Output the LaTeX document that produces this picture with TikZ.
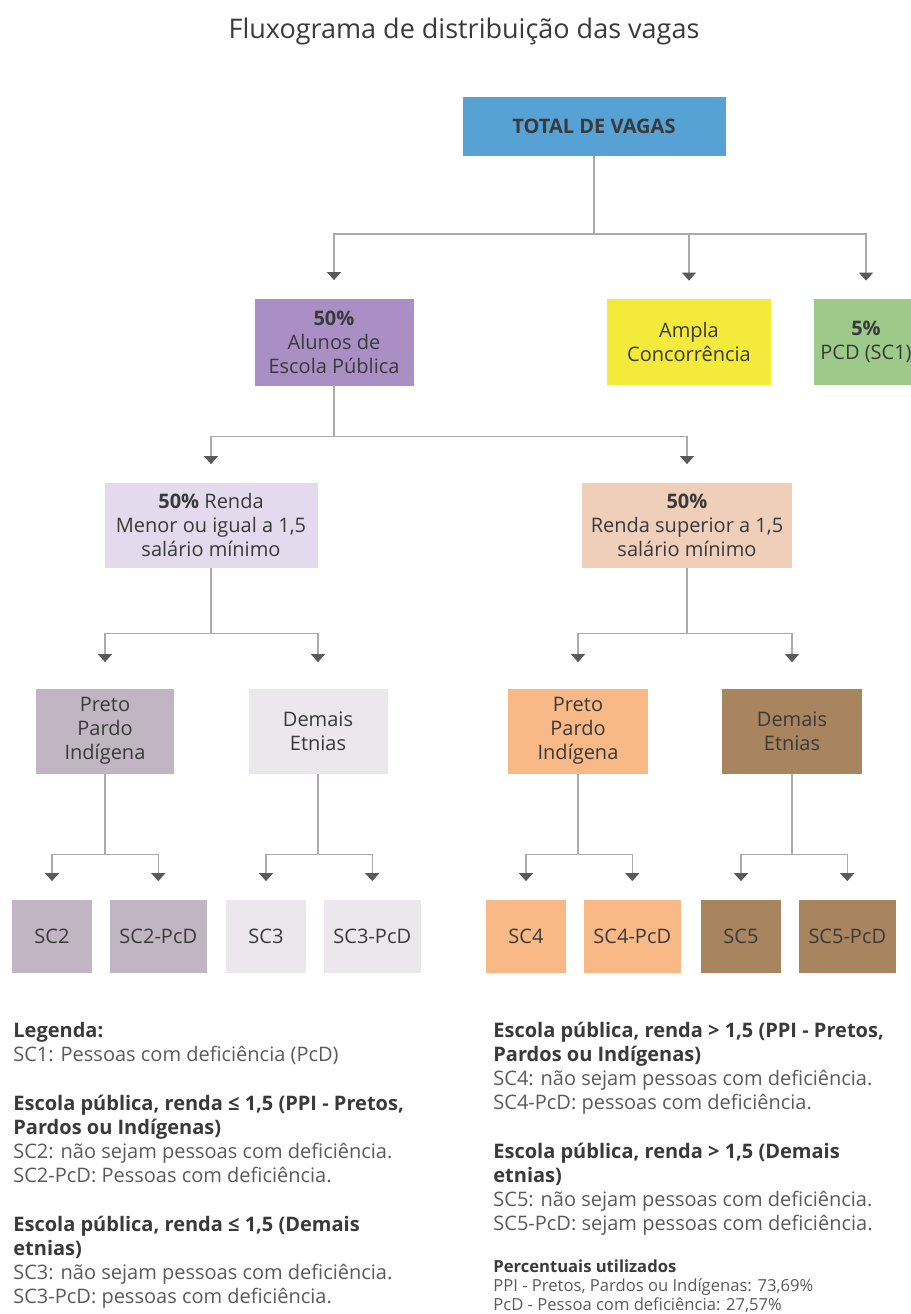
\documentclass[tikz,border=0pt]{standalone}
\usepackage{fontspec}
\setmainfont{Open Sans}
\usepackage{tikz}
\usetikzlibrary{arrows.meta,positioning}

\definecolor{titlec}{HTML}{3A3A3A}
\definecolor{boxtext}{HTML}{3A3A3A}
\definecolor{bodytext}{HTML}{5A5A5A}
\definecolor{linegray}{HTML}{ABABAB}
\definecolor{tipgray}{HTML}{5A5A5A}
\definecolor{vagasblue}{HTML}{57A2D4}
\definecolor{alunospurple}{HTML}{A98FC3}
\definecolor{amplayellow}{HTML}{F3EA3B}
\definecolor{pcdgreen}{HTML}{9DCA89}
\definecolor{rendalow}{HTML}{E3DBED}
\definecolor{rendahigh}{HTML}{EFCFBA}
\definecolor{ppilow}{HTML}{C1B4C3}
\definecolor{demlow}{HTML}{EBE7ED}
\definecolor{ppihigh}{HTML}{F8B986}
\definecolor{demhigh}{HTML}{A8845F}

\begin{document}
\begin{tikzpicture}[
  x=0.5pt, y=-0.5pt,
  node distance=8.5pt and 8.5pt,
  box/.style={rectangle, inner sep=0pt, align=center, text=boxtext, font=\fontsize{10}{12}\selectfont},
  scbox/.style={box, minimum width=40pt, minimum height=36.5pt},
  pcdbox/.style={box, minimum width=48.5pt, minimum height=36.5pt},
  legend/.style={anchor=north west, inner sep=0pt, align=left, text=bodytext, font=\fontsize{10}{12}\selectfont},
  line/.style={draw=linegray, line width=0.75pt},
  arrow/.style={line, -{Triangle[width=7pt,length=4pt,color=tipgray]}, shorten >=9pt}]

\useasboundingbox (0,0) rectangle (911,1314);

\node[font=\fontsize{13.5}{16}\selectfont, text=titlec] (title) at (464,31) {Fluxograma de distribuição das vagas};

% primeiro nivel
\node[box, fill=vagasblue, minimum width=131.5pt, minimum height=29.5pt, font=\fontsize{10}{12}\selectfont\bfseries] (total) at (594,126) {TOTAL DE VAGAS};
\node[box, fill=alunospurple, minimum width=79.5pt, minimum height=43.5pt] (alunos) at (334,342) {\textbf{50\%}\\Alunos de\\Escola Pública};
\node[box, fill=amplayellow, minimum width=82pt, minimum height=43pt] (ampla) at (689,342) {Ampla\\Concorrência};
\node[box, fill=pcdgreen, minimum width=52.5pt, minimum height=43pt] (pcd) at (866,342) {\textbf{5\%}\\PCD (SC1)};

% renda
\node[box, fill=rendalow, minimum width=106.5pt, minimum height=42.5pt] (rendalow) at (211,525) {\textbf{50\%} Renda\\Menor ou igual a 1,5\\salário mínimo};
\node[box, fill=rendahigh, minimum width=105pt, minimum height=42.5pt] (rendahigh) at (687,525) {\textbf{50\%}\\Renda superior a 1,5\\salário mínimo};

% etnias
\node[box, fill=ppilow, minimum width=69pt, minimum height=42.5pt] (ppilow) at (105,731) {Preto\\Pardo\\Indígena};
\node[box, fill=demlow, minimum width=69.5pt, minimum height=42.5pt] (demlow) at (318,731) {Demais\\Etnias};
\node[box, fill=ppihigh, minimum width=70pt, minimum height=42.5pt] (ppihigh) at (578,731) {Preto\\Pardo\\Indígena};
\node[box, fill=demhigh, minimum width=70pt, minimum height=42.5pt] (demhigh) at (792,731) {Demais\\Etnias};

% subcotas
\node[scbox, fill=ppilow] (sc2) at (52,936) {SC2};
\node[pcdbox, fill=ppilow, right=of sc2] (sc2pcd) {SC2-PcD};
\node[scbox, fill=demlow] (sc3) at (266,936) {SC3};
\node[pcdbox, fill=demlow, right=of sc3] (sc3pcd) {SC3-PcD};
\node[scbox, fill=ppihigh] (sc4) at (526,936) {SC4};
\node[pcdbox, fill=ppihigh, right=of sc4] (sc4pcd) {SC4-PcD};
\node[scbox, fill=demhigh] (sc5) at (741,936) {SC5};
\node[pcdbox, fill=demhigh, right=of sc5] (sc5pcd) {SC5-PcD};

\draw[line] (total.south) -- ++(0,78) coordinate (tj);
\draw[arrow] (tj) -| (alunos.north);
\draw[arrow] (tj) -| (ampla.north);
\draw[arrow] (tj) -| (pcd.north);

\draw[line] (alunos.south) -- ++(0,50.5) coordinate (aj);
\draw[arrow] (aj) -| (rendalow.north);
\draw[arrow] (aj) -| (rendahigh.north);

\draw[line] (rendalow.south) -- ++(0,65.5) coordinate (rj1);
\draw[arrow, shorten >=13pt] (rj1) -| (ppilow.north);
\draw[arrow, shorten >=13pt] (rj1) -| (demlow.north);
\draw[line] (rendahigh.south) -- ++(0,65.5) coordinate (rj2);
\draw[arrow, shorten >=13pt] (rj2) -| (ppihigh.north);
\draw[arrow, shorten >=13pt] (rj2) -| (demhigh.north);

\draw[line] (ppilow.south) -- ++(0,80.5) coordinate (ej1);
\draw[arrow] (ej1) -| (sc2.north);
\draw[arrow] (ej1) -| (sc2pcd.north);
\draw[line] (demlow.south) -- ++(0,80.5) coordinate (ej2);
\draw[arrow] (ej2) -| (sc3.north);
\draw[arrow] (ej2) -| (sc3pcd.north);
\draw[line] (ppihigh.south) -- ++(0,80.5) coordinate (ej3);
\draw[arrow] (ej3) -| (sc4.north);
\draw[arrow] (ej3) -| (sc4pcd.north);
\draw[line] (demhigh.south) -- ++(0,80.5) coordinate (ej4);
\draw[arrow] (ej4) -| (sc5.north);
\draw[arrow] (ej4) -| (sc5pcd.north);

% legenda
\node[legend] (leg1) at (13,1022) {{\color{titlec}\bfseries Legenda:}\\SC1: Pessoas com deficiência (PcD)};
\node[legend] (leg2) at (13,1095) {{\color{titlec}\bfseries Escola pública, renda ≤ 1,5 (PPI - Pretos,}\\{\color{titlec}\bfseries Pardos ou Indígenas)}\\SC2: não sejam pessoas com deficiência.\\SC2-PcD: Pessoas com deficiência.};
\node[legend] (leg3) at (13,1216) {{\color{titlec}\bfseries Escola pública, renda ≤ 1,5 (Demais}\\{\color{titlec}\bfseries etnias)}\\SC3: não sejam pessoas com deficiência.\\SC3-PcD: pessoas com deficiência.};
\node[legend] (leg4) at (493,1022) {{\color{titlec}\bfseries Escola pública, renda > 1,5 (PPI - Pretos,}\\{\color{titlec}\bfseries Pardos ou Indígenas)}\\SC4: não sejam pessoas com deficiência.\\SC4-PcD: pessoas com deficiência.};
\node[legend] (leg5) at (493,1143) {{\color{titlec}\bfseries Escola pública, renda > 1,5 (Demais}\\{\color{titlec}\bfseries etnias)}\\SC5: não sejam pessoas com deficiência.\\SC5-PcD: sejam pessoas com deficiência.};
\node[legend, font=\fontsize{8.3}{9.6}\selectfont] (leg6) at (493,1259) {{\color{titlec}\bfseries Percentuais utilizados}\\PPI - Pretos, Pardos ou Indígenas: 73,69\%\\PcD - Pessoa com deficiência: 27,57\%};

\end{tikzpicture}
\end{document}
